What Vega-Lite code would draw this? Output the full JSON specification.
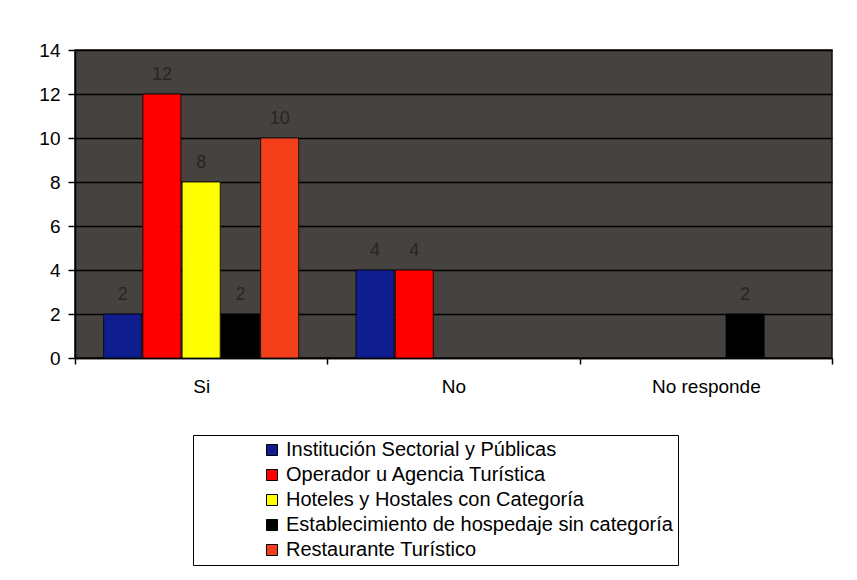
{
  "$schema": "https://vega.github.io/schema/vega-lite/v6.json",
  "width": 757,
  "height": 308,
  "autosize": {"type": "none"},
  "padding": {"left": 75, "top": 50, "right": 25, "bottom": 222},
  "background": "white",
  "data": {
    "values": [
      {"respuesta": "Si", "grupo": "Institución Sectorial y Públicas", "valor": 2},
      {"respuesta": "Si", "grupo": "Operador u Agencia Turística", "valor": 12},
      {"respuesta": "Si", "grupo": "Hoteles y Hostales con Categoría", "valor": 8},
      {"respuesta": "Si", "grupo": "Establecimiento de hospedaje sin categoría", "valor": 2},
      {"respuesta": "Si", "grupo": "Restaurante Turístico", "valor": 10},
      {"respuesta": "No", "grupo": "Institución Sectorial y Públicas", "valor": 4},
      {"respuesta": "No", "grupo": "Operador u Agencia Turística", "valor": 4},
      {"respuesta": "No responde", "grupo": "Establecimiento de hospedaje sin categoría", "valor": 2}
    ]
  },
  "encoding": {
    "x": {
      "field": "respuesta",
      "type": "nominal",
      "scale": {"domain": ["Si", "No", "No responde"], "paddingInner": 0, "paddingOuter": 0},
      "axis": {
        "title": null,
        "labelAngle": 0,
        "tickBand": "extent",
        "tickSize": 6,
        "tickColor": "#000",
        "tickWidth": 1.5,
        "domainColor": "#000",
        "domainWidth": 1.5,
        "labelPadding": 13,
        "labelFontSize": 19,
        "labelColor": "#000",
        "labelFont": "Liberation Sans"
      }
    },
    "xOffset": {
      "field": "grupo",
      "type": "nominal",
      "scale": {
        "domain": ["Institución Sectorial y Públicas", "Operador u Agencia Turística", "Hoteles y Hostales con Categoría", "Establecimiento de hospedaje sin categoría", "Restaurante Turístico"],
        "paddingInner": 0.03,
        "paddingOuter": 0.73
      }
    },
    "y": {
      "field": "valor",
      "type": "quantitative",
      "scale": {"domain": [0, 14], "nice": false},
      "axis": {
        "title": null,
        "values": [0, 2, 4, 6, 8, 10, 12, 14],
        "grid": true,
        "gridColor": "#000",
        "gridWidth": 1.5,
        "domainColor": "#000",
        "domainWidth": 1.5,
        "tickColor": "#000",
        "tickWidth": 1.5,
        "tickSize": 7,
        "labelPadding": 8,
        "labelFontSize": 19,
        "labelColor": "#000",
        "labelFont": "Liberation Sans"
      }
    }
  },
  "layer": [
    {
      "mark": {"type": "bar", "stroke": "#000", "strokeWidth": 0.8},
      "encoding": {
        "color": {
          "field": "grupo",
          "type": "nominal",
          "scale": {
            "domain": ["Institución Sectorial y Públicas", "Operador u Agencia Turística", "Hoteles y Hostales con Categoría", "Establecimiento de hospedaje sin categoría", "Restaurante Turístico"],
            "range": ["#0f1d8e", "#ff0000", "#ffff00", "#000000", "#f4401a"]
          },
          "legend": {
            "orient": "none",
            "legendX": 118,
            "legendY": 385,
            "title": null,
            "fillColor": "#ffffff",
            "strokeColor": "#000000",
            "padding": 5,
            "symbolOffset": 64,
            "symbolType": "square",
            "symbolSize": 121,
            "symbolStrokeColor": "#000",
            "symbolStrokeWidth": 1,
            "symbolOpacity": 1,
            "labelFontSize": 20,
            "labelFont": "Liberation Sans",
            "labelColor": "#000",
            "labelOffset": 4,
            "labelLimit": 500,
            "rowPadding": 5
          }
        }
      }
    },
    {
      "mark": {"type": "text", "baseline": "alphabetic", "dy": -14, "fontSize": 18, "font": "Liberation Sans", "color": "#262626"},
      "encoding": {"text": {"field": "valor", "type": "quantitative"}}
    }
  ],
  "config": {
    "view": {"fill": "#45423f", "stroke": "#111111", "strokeWidth": 1.5}
  }
}
